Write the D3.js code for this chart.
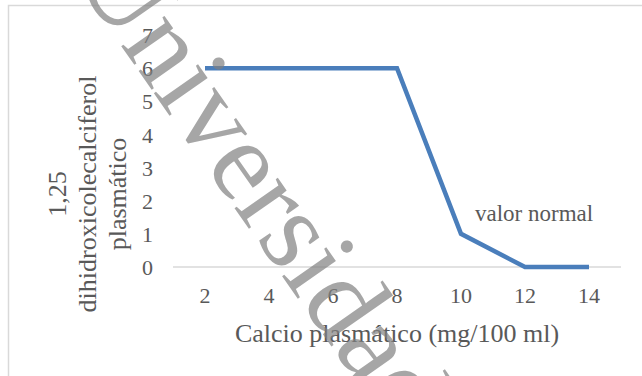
<!DOCTYPE html>
<html><head><meta charset="utf-8">
<script src="https://cdn.jsdelivr.net/npm/d3@7"></script>
<style>body{margin:0;background:#fff}svg{display:block}
text{font-family:"Liberation Serif","Times New Roman",Times,serif}</style>
</head><body>
<svg id="c" width="642" height="376"></svg>
<script>
const categories = ["2","4","6","8","10","12","14"];
const values = [6,6,6,6,1,0,0];
const yTicks = [0,1,2,3,4,5,6,7];
const xTitle = "Calcio plasmático (mg/100 ml)";
const yTitleLines = ["1,25","dihidroxicolecalciferol","plasmático"];
const annotation = "valor normal";
const watermark = "Universidad";

const svg = d3.select("#c");
const textColor = "#595959";

// chart border
svg.append("rect").attr("x",8.5).attr("y",5.5).attr("width",700).attr("height",500)
  .attr("fill","none").attr("stroke","#d9d9d9").attr("stroke-width",1.5);

const x = d3.scaleBand().domain(categories).range([173,621]);
const y = d3.scaleLinear().domain([0,7]).range([267,35]);

// x axis
const xa = svg.append("g").attr("transform","translate(0,267)")
  .call(d3.axisBottom(x).tickSize(0).tickPadding(0));
xa.select(".domain").attr("stroke","#d9d9d9").attr("stroke-width",1.5).attr("d","M173,0H621");
xa.selectAll("text").attr("font-family",null).attr("font-size",22).attr("fill",textColor)
  .attr("y",36).attr("dy",null);

// y axis
const ya = svg.append("g").attr("transform","translate(153,0)")
  .call(d3.axisLeft(y).tickValues(yTicks).tickSize(0).tickPadding(0).tickFormat(d3.format("d")));
ya.select(".domain").remove();
ya.selectAll("text").attr("font-size",22).attr("fill",textColor).attr("dy","0.35em");
xa.attr("font-family",null); ya.attr("font-family",null);

// line
const line = d3.line().x((d,i)=>x(categories[i])+x.bandwidth()/2).y(d=>y(d));
svg.append("path").datum(values).attr("d",line)
  .attr("fill","none").attr("stroke","#4a7ebb").attr("stroke-width",4.5);

// annotation
svg.append("text").text(annotation).attr("x",475).attr("y",221)
  .attr("font-size",23).attr("fill",textColor);

// x title
svg.append("text").text(xTitle).attr("x",397).attr("y",342).attr("text-anchor","middle")
  .attr("font-size",26).attr("fill",textColor);

// y title
const yt = svg.append("text").attr("transform","translate(0,194) rotate(-90)")
  .attr("text-anchor","middle").attr("font-size",26).attr("fill",textColor);
yTitleLines.forEach((t,i)=>{
  yt.append("tspan").attr("x",0).attr("y",66+i*30).text(t);
});

// watermark
svg.append("text").text(watermark)
  .attr("font-size",115)
  .attr("fill","#808080").attr("fill-opacity",0.7)
  .attr("transform","translate(72,-24) rotate(55)");
</script>
</body></html>
